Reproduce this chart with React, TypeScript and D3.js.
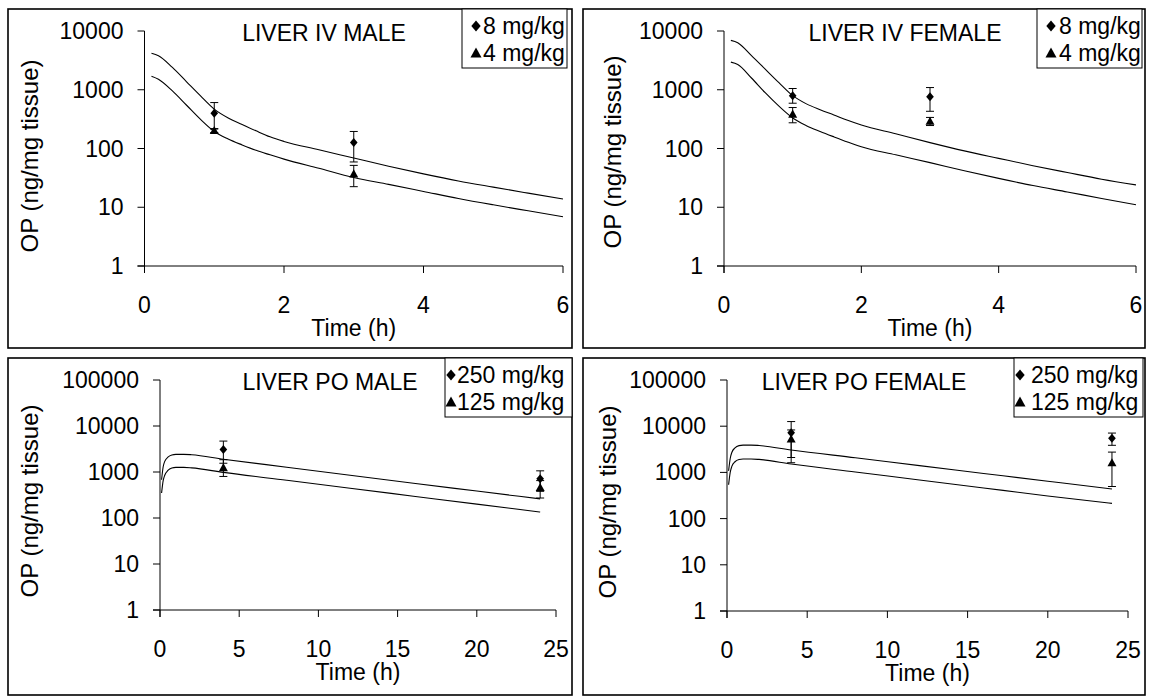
import React from "react";
import * as d3 from "d3";

// Model-predicted liver OP concentrations (ng/mg tissue) over time (h)
const ivTime = [0.1, 0.2, 0.4, 0.6, 0.8, 1.0, 1.2, 1.4, 1.6, 1.8, 2.0, 2.5, 3.0, 3.5, 4.0, 4.5, 5.0, 5.5, 6.0];
const ivMaleHigh = [4170, 3800, 2400, 1380, 794, 468, 331, 257, 200, 158, 132, 95, 69, 50, 37, 28, 22, 17.4, 13.8];
const ivMaleLow = [1700, 1510, 955, 550, 316, 195, 145, 115, 93, 78, 66, 46, 32, 24.5, 18.6, 14.1, 11, 8.7, 6.9];
const ivFemaleHigh = [6920, 6310, 3800, 2240, 1320, 794, 575, 457, 372, 302, 251, 178, 126, 91, 68, 51, 39, 30, 24];
const ivFemaleLow = [2950, 2690, 1585, 890, 525, 331, 245, 195, 158, 129, 107, 78, 57.5, 41.7, 31, 23.4, 18.2, 14.1, 11];

const poTime = [0.1, 0.2, 0.3, 0.5, 0.75, 1, 1.5, 2, 4, 8, 12, 16, 20, 24];
const poMaleHigh = [680, 1300, 1700, 2100, 2350, 2420, 2420, 2370, 1900, 1270, 850, 570, 385, 260];
const poMaleLow = [350, 650, 850, 1080, 1220, 1260, 1260, 1230, 980, 660, 444, 298, 200, 135];
const poFemaleHigh = [1080, 2000, 2700, 3400, 3800, 3900, 3900, 3820, 3050, 2070, 1400, 950, 644, 436];
const poFemaleLow = [540, 1000, 1350, 1700, 1900, 1950, 1950, 1910, 1520, 1020, 686, 460, 309, 214];

// Measured values: mean with lower/upper error bounds
const ivObsTime = [1, 3];
const ivMaleHighObs = [400, 127];
const ivMaleHighLo = [215, 59];
const ivMaleHighHi = [605, 195];
const ivMaleLowObs = [203, 37];
const ivMaleLowLo = [187, 22.4];
const ivMaleLowHi = [218, 51.6];
const ivFemaleHighObs = [790, 760];
const ivFemaleHighLo = [590, 430];
const ivFemaleHighHi = [1050, 1090];
const ivFemaleLowObs = [385, 292];
const ivFemaleLowLo = [274, 246];
const ivFemaleLowHi = [498, 338];

const poObsTime = [4, 24];
const poMaleHighObs = [3100, 715];
const poMaleHighLo = [1550, 380];
const poMaleHighHi = [4700, 1060];
const poMaleLowObs = [1250, 460];
const poMaleLowLo = [800, 272];
const poMaleLowHi = [1850, 650];
const poFemaleHighObs = [7200, 5500];
const poFemaleHighLo = [2100, 3860];
const poFemaleHighHi = [12600, 7100];
const poFemaleLowObs = [5300, 1620];
const poFemaleLowLo = [1620, 495];
const poFemaleLowHi = [8300, 2750];

const ivXTicks = [0, 2, 4, 6];
const poXTicks = [0, 5, 10, 15, 20, 25];
const ivYTicks = [1, 10, 100, 1000, 10000];
const poYTicks = [1, 10, 100, 1000, 10000, 100000];
const ivDoses = ["8 mg/kg", "4 mg/kg"];
const poDoses = ["250 mg/kg", "125 mg/kg"];

const FONT = "'Liberation Sans', Arial, Helvetica, sans-serif";
const FS = 23;

type Obs = { t: number[]; mean: number[]; lo: number[]; hi: number[] };
type PanelCfg = {
  title: string;
  titleX: number;
  box: [number, number, number, number];
  plot: { x0: number; x1: number; yb: number; yt: number };
  xMax: number;
  yMax: number;
  xTicks: number[];
  yTicks: number[];
  yLabelX: number;
  yLabelY: number;
  legend: { x0: number; x1: number; markerX: number; textX: number; labels: string[] };
  curveT: number[];
  curves: number[][];
  obs: Obs[];
};

const panels: PanelCfg[] = [
  {
    title: "LIVER IV MALE",
    titleX: 324,
    box: [8, 9, 572, 348],
    plot: { x0: 144.5, x1: 563, yb: 266, yt: 31 },
    xMax: 6,
    yMax: 10000,
    xTicks: ivXTicks,
    yTicks: ivYTicks,
    yLabelX: 38,
    yLabelY: 156,
    legend: { x0: 462, x1: 567, markerX: 476, textX: 483, labels: ivDoses },
    curveT: ivTime,
    curves: [ivMaleHigh, ivMaleLow],
    obs: [
      { t: ivObsTime, mean: ivMaleHighObs, lo: ivMaleHighLo, hi: ivMaleHighHi },
      { t: ivObsTime, mean: ivMaleLowObs, lo: ivMaleLowLo, hi: ivMaleLowHi },
    ],
  },
  {
    title: "LIVER IV FEMALE",
    titleX: 905,
    box: [583, 9, 1145, 348],
    plot: { x0: 724, x1: 1136, yb: 266, yt: 31 },
    xMax: 6,
    yMax: 10000,
    xTicks: ivXTicks,
    yTicks: ivYTicks,
    yLabelX: 621,
    yLabelY: 152,
    legend: { x0: 1037, x1: 1142, markerX: 1051, textX: 1059, labels: ivDoses },
    curveT: ivTime,
    curves: [ivFemaleHigh, ivFemaleLow],
    obs: [
      { t: ivObsTime, mean: ivFemaleHighObs, lo: ivFemaleHighLo, hi: ivFemaleHighHi },
      { t: ivObsTime, mean: ivFemaleLowObs, lo: ivFemaleLowLo, hi: ivFemaleLowHi },
    ],
  },
  {
    title: "LIVER PO MALE",
    titleX: 330,
    box: [8, 358, 572, 695],
    plot: { x0: 160, x1: 556, yb: 610, yt: 380 },
    xMax: 25,
    yMax: 100000,
    xTicks: poXTicks,
    yTicks: poYTicks,
    yLabelX: 38,
    yLabelY: 501,
    legend: { x0: 445, x1: 572, markerX: 451, textX: 457, labels: poDoses },
    curveT: poTime,
    curves: [poMaleHigh, poMaleLow],
    obs: [
      { t: poObsTime, mean: poMaleHighObs, lo: poMaleHighLo, hi: poMaleHighHi },
      { t: poObsTime, mean: poMaleLowObs, lo: poMaleLowLo, hi: poMaleLowHi },
    ],
  },
  {
    title: "LIVER PO FEMALE",
    titleX: 864,
    box: [583, 358, 1145, 695],
    plot: { x0: 727, x1: 1128, yb: 611, yt: 380 },
    xMax: 25,
    yMax: 100000,
    xTicks: poXTicks,
    yTicks: poYTicks,
    yLabelX: 616,
    yLabelY: 502,
    legend: { x0: 1014, x1: 1143, markerX: 1020, textX: 1031, labels: poDoses },
    curveT: poTime,
    curves: [poFemaleHigh, poFemaleLow],
    obs: [
      { t: poObsTime, mean: poFemaleHighObs, lo: poFemaleHighLo, hi: poFemaleHighHi },
      { t: poObsTime, mean: poFemaleLowObs, lo: poFemaleLowLo, hi: poFemaleLowHi },
    ],
  },
];

function Diamond({ x, y, r = 4.5 }: { x: number; y: number; r?: number }) {
  return <path d={`M${x},${y - r}L${x + r * 0.85},${y}L${x},${y + r}L${x - r * 0.85},${y}Z`} fill="#000" />;
}

function Triangle({ x, y, r = 4.5 }: { x: number; y: number; r?: number }) {
  return <path d={`M${x},${y - r}L${x + r},${y + r * 0.8}L${x - r},${y + r * 0.8}Z`} fill="#000" />;
}

function Panel({ cfg }: { cfg: PanelCfg }) {
  const { plot } = cfg;
  const x = d3.scaleLinear().domain([0, cfg.xMax]).range([plot.x0, plot.x1]);
  const y = d3.scaleLog().domain([1, cfg.yMax]).range([plot.yb, plot.yt]);
  const line = d3
    .line<[number, number]>()
    .x((d) => x(d[0]))
    .y((d) => y(d[1]))
    .curve(d3.curveMonotoneX);
  const [bx0, by0, bx1, by1] = cfg.box;
  const lg = cfg.legend;
  const rowY = [by0 + 17, by0 + 44];

  return (
    <g>
      <rect x={bx0} y={by0} width={bx1 - bx0} height={by1 - by0} fill="#fff" stroke="#000" strokeWidth={1.6} />

      {/* axes */}
      <line x1={plot.x0} x2={plot.x0} y1={y(cfg.yMax)} y2={plot.yb + 7} stroke="#000" strokeWidth={1} />
      <line x1={plot.x0 - 7} x2={x(cfg.xMax)} y1={plot.yb} y2={plot.yb} stroke="#000" strokeWidth={1} />
      {cfg.yTicks.map((v) => (
        <g key={`y${v}`}>
          <line x1={plot.x0 - 7} x2={plot.x0} y1={y(v)} y2={y(v)} stroke="#000" strokeWidth={1} />
          <text x={plot.x0 - 21} y={y(v) + 8} textAnchor="end" fontSize={FS} fontFamily={FONT}>
            {v}
          </text>
        </g>
      ))}
      {cfg.xTicks.map((v) => (
        <g key={`x${v}`}>
          <line x1={x(v)} x2={x(v)} y1={plot.yb} y2={plot.yb + 7} stroke="#000" strokeWidth={1} />
          <text x={x(v)} y={plot.yb + 47} textAnchor="middle" fontSize={FS} fontFamily={FONT}>
            {v}
          </text>
        </g>
      ))}
      <text x={(plot.x0 + plot.x1) / 2} y={plot.yb + 70} textAnchor="middle" fontSize={FS} fontFamily={FONT}>
        Time (h)
      </text>
      <text
        transform={`translate(${cfg.yLabelX},${cfg.yLabelY}) rotate(-90)`}
        textAnchor="middle"
        fontSize={24}
        fontFamily={FONT}
      >
        OP (ng/mg tissue)
      </text>
      <text x={cfg.titleX} y={plot.yt + 10} textAnchor="middle" fontSize={FS} fontFamily={FONT}>
        {cfg.title}
      </text>

      {/* model curves */}
      {cfg.curves.map((vals, i) => (
        <path
          key={`c${i}`}
          d={line(cfg.curveT.map((t, j) => [t, vals[j]] as [number, number])) || ""}
          fill="none"
          stroke="#000"
          strokeWidth={1.1}
        />
      ))}

      {/* observations with error bars */}
      {cfg.obs.map((o, si) =>
        o.t.map((t, j) => {
          const cx = x(t);
          return (
            <g key={`o${si}-${j}`}>
              <line x1={cx} x2={cx} y1={y(o.lo[j])} y2={y(o.hi[j])} stroke="#000" strokeWidth={1} />
              <line x1={cx - 4} x2={cx + 4} y1={y(o.lo[j])} y2={y(o.lo[j])} stroke="#000" strokeWidth={1} />
              <line x1={cx - 4} x2={cx + 4} y1={y(o.hi[j])} y2={y(o.hi[j])} stroke="#000" strokeWidth={1} />
              {si === 0 ? <Diamond x={cx} y={y(o.mean[j])} /> : <Triangle x={cx} y={y(o.mean[j])} />}
            </g>
          );
        })
      )}

      {/* legend */}
      <rect x={lg.x0} y={by0} width={lg.x1 - lg.x0} height={59} fill="#fff" stroke="#000" strokeWidth={1} />
      <Diamond x={lg.markerX} y={rowY[0]} r={5.5} />
      <Triangle x={lg.markerX} y={rowY[1]} r={5.5} />
      {lg.labels.map((s, i) => (
        <text key={s} x={lg.textX} y={rowY[i] + 8} fontSize={FS} fontFamily={FONT}>
          {s}
        </text>
      ))}
    </g>
  );
}

export default function App() {
  return (
    <svg
      width={1152}
      height={696}
      viewBox="0 0 1152 696"
      style={{ position: "absolute", left: 0, top: 0, background: "#fff" }}
    >
      <rect x={0} y={0} width={1152} height={696} fill="#fff" />
      {panels.map((p) => (
        <Panel key={p.title} cfg={p} />
      ))}
    </svg>
  );
}
